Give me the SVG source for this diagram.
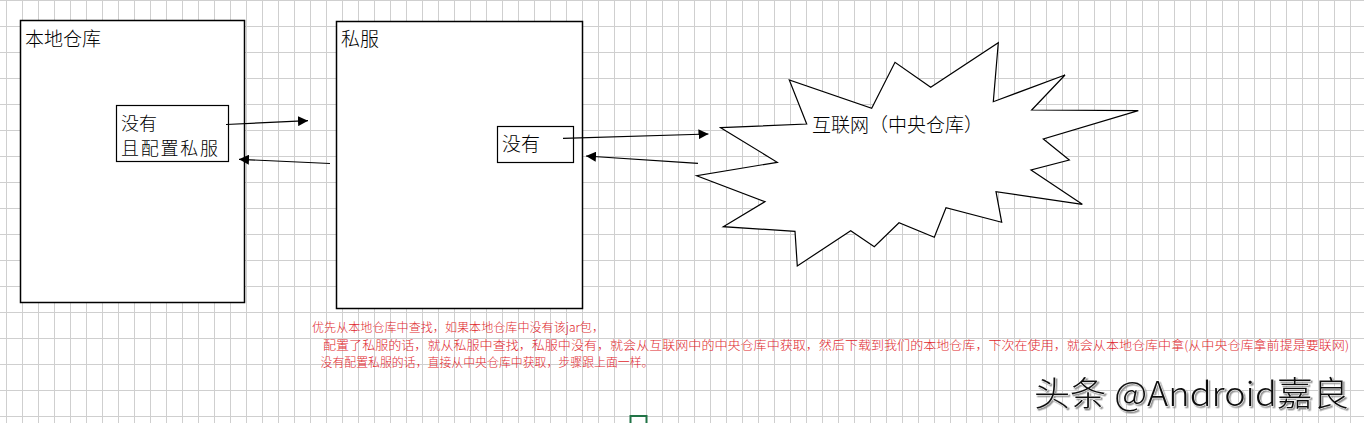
<svg xmlns="http://www.w3.org/2000/svg" width="1364" height="423" viewBox="0 0 1364 423">
<defs>
  <pattern id="grid" x="6" y="0" width="16" height="26" patternUnits="userSpaceOnUse">
    <path d="M0.5 0 V26 M0 0.5 H16" stroke="#cfcfcf" stroke-width="1" fill="none"/>
  </pattern>
  <marker id="ah" viewBox="0 0 10 10" refX="10" refY="5" markerWidth="10" markerHeight="10" markerUnits="userSpaceOnUse" orient="auto">
    <path d="M0 0 L10 5 L0 10 Z" fill="#000"/>
  </marker>
  <filter id="shadow" x="-5%" y="-20%" width="110%" height="140%">
    <feDropShadow dx="1.5" dy="1.5" stdDeviation="0.6" flood-color="#888" flood-opacity="0.9"/>
  </filter>
</defs>
<style>
  .box { fill: #fff; stroke: #000; stroke-width: 1.5; }
  .inner { fill: #fff; stroke: #000; stroke-width: 1.2; }
  .lbl { font-family: "Noto Sans CJK SC", "Noto Sans", sans-serif; font-size: 19px; font-weight: 300; fill: #000; }
  .lbl2 { font-family: "Noto Sans CJK SC", "Noto Sans", sans-serif; font-size: 18px; font-weight: 300; fill: #000; }
  .note { font-family: "Noto Sans CJK SC", "Liberation Sans", sans-serif; font-size: 12.5px; font-weight: 300; fill: #e0282e; }
  .conn { stroke: #000; stroke-width: 1.2; fill: none; marker-end: url(#ah); }
  .wm { font-family: "Noto Sans CJK SC", "Noto Sans", sans-serif; font-size: 34px; font-weight: 300; fill: #111; stroke: #fff; stroke-width: 1; paint-order: stroke; }
</style>
<rect x="0" y="0" width="1364" height="423" fill="#fff"/>
<rect x="0" y="0" width="1364" height="423" fill="url(#grid)"/>

<g id="local-repo">
  <rect class="box" x="20.5" y="20.5" width="224" height="282"/>
  <text class="lbl" x="25" y="46">本地仓库</text>
</g>
<g id="local-missing">
  <rect class="inner" x="116.5" y="105.5" width="112" height="56"/>
  <text class="lbl2" x="121" y="129.5">没有</text>
  <text class="lbl2" x="121" y="154.5" textLength="97" lengthAdjust="spacing">且配置私服</text>
</g>
<g id="private-server">
  <rect class="box" x="336.5" y="21.5" width="246" height="287"/>
  <text class="lbl" x="341" y="46">私服</text>
</g>
<g id="private-missing">
  <rect class="inner" x="497.5" y="126.5" width="76" height="36"/>
  <text class="lbl" x="502" y="151">没有</text>
</g>
<g id="internet">
  <polygon class="inner" points="720.7,127.7 806.7,124 789.3,80 871.7,108.3 895,62.3 930.7,87.3 998.3,42.7 993.3,101.7 1065,75 1031.7,110 1138.3,110.7 1043.3,139 1069.3,160 1031,170 1082.3,204.3 996,191.7 1001.7,222.3 946,207.7 934.3,237.3 899,222.7 874.3,246.7 850.7,230.7 797.3,266 795,231.3 723.3,226.7 765,201.7 696.7,175.7 777.3,162.3"/>
  <text class="lbl" x="812" y="132">互联网（中央仓库）</text>
</g>

<g id="connectors">
  <line class="conn" x1="226" y1="124.5" x2="308" y2="120.7"/>
  <line class="conn" x1="330" y1="163.5" x2="239" y2="159.3"/>
  <line class="conn" x1="563" y1="138.3" x2="708.5" y2="134"/>
  <line class="conn" x1="698" y1="163.3" x2="586" y2="156"/>
</g>

<g id="notes">
  <text class="note" x="312" y="332" textLength="292" lengthAdjust="spacingAndGlyphs">优先从本地仓库中查找，如果本地仓库中没有该jar包，</text>
  <text class="note" x="323" y="350" textLength="1026" lengthAdjust="spacingAndGlyphs">配置了私服的话，就从私服中查找，私服中没有，就会从互联网中的中央仓库中获取，然后下载到我们的本地仓库，下次在使用，就会从本地仓库中拿(从中央仓库拿前提是要联网)</text>
  <text class="note" x="320.5" y="367" textLength="333" lengthAdjust="spacingAndGlyphs">没有配置私服的话，直接从中央仓库中获取，步骤跟上面一样。</text>
</g>

<g id="watermark">
  <text class="wm" x="1034" y="406" textLength="315" lengthAdjust="spacingAndGlyphs" filter="url(#shadow)">头条 @Android嘉良</text>
</g>

<g id="selection">
  <path d="M630.5 423 V416 H646.5 V423" fill="none" stroke="#217346" stroke-width="2"/>
</g>
</svg>
